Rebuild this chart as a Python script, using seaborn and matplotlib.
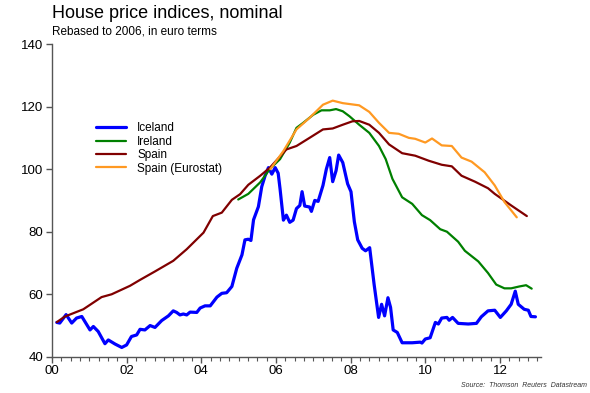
import matplotlib
matplotlib.use("Agg")
import matplotlib.pyplot as plt
from matplotlib.ticker import MultipleLocator
import seaborn as sns
import pandas as pd

# ---- data (years since 2000, index values) ----
iceland_x = [0.13, 0.21, 0.38, 0.53, 0.66, 0.80, 1.02, 1.11, 1.24, 1.42, 1.51, 1.69, 1.87, 2.00,
             2.13, 2.27, 2.36, 2.49, 2.63, 2.76, 2.94, 3.12, 3.25, 3.34, 3.43, 3.52, 3.61, 3.70,
             3.88, 3.97, 4.10, 4.24, 4.42, 4.55, 4.68, 4.82, 4.95, 5.09, 5.17, 5.26, 5.33, 5.40,
             5.53, 5.62, 5.71, 5.80, 5.89, 5.98, 6.06, 6.11, 6.20, 6.28, 6.37, 6.46, 6.55, 6.64,
             6.70, 6.77, 6.90, 6.95, 7.04, 7.13, 7.26, 7.35, 7.44, 7.52, 7.61, 7.68, 7.79, 7.92,
             8.01, 8.10, 8.19, 8.31, 8.40, 8.51, 8.63, 8.75, 8.83, 8.91, 9.00, 9.07, 9.14, 9.25,
             9.38, 9.65, 9.87, 9.91, 10.00, 10.13, 10.27, 10.35, 10.44, 10.58, 10.64, 10.73, 10.88,
             11.15, 11.37, 11.50, 11.68, 11.86, 12.01, 12.17, 12.30, 12.41, 12.49, 12.65, 12.76,
             12.83, 12.95]
iceland_y = [51.0, 50.8, 53.5, 50.8, 52.4, 52.9, 48.6, 49.7, 48.1, 44.2, 45.4, 44.1, 43.0, 43.8,
             46.5, 47.0, 48.8, 48.6, 50.0, 49.4, 51.6, 53.1, 54.7, 54.2, 53.4, 53.7, 53.4, 54.3,
             54.2, 55.6, 56.3, 56.3, 59.1, 60.3, 60.5, 62.5, 68.3, 72.6, 77.4, 77.6, 77.2, 83.8,
             88.0, 94.4, 97.9, 100.5, 98.4, 100.5, 98.7, 93.7, 83.7, 85.3, 83.0, 83.7, 87.4, 88.4,
             92.8, 88.2, 87.9, 86.5, 90.0, 89.7, 94.8, 100.0, 103.7, 96.0, 99.5, 104.5, 102.1, 95.3,
             92.8, 83.2, 77.4, 74.7, 73.9, 74.9, 63.1, 52.6, 56.8, 53.1, 58.9, 55.8, 48.6, 47.8,
             44.5, 44.5, 44.7, 44.4, 45.7, 46.1, 51.0, 50.5, 52.4, 52.6, 51.7, 52.6, 50.7,
             50.5, 50.7, 52.8, 54.7, 54.9, 52.6, 54.7, 56.8, 61.0, 56.8, 55.2, 54.9,
             52.9, 52.8]

ireland_x = [4.99, 5.26, 5.58, 5.84, 6.11, 6.37, 6.55, 6.73, 7.00, 7.22, 7.44, 7.61, 7.79, 7.97,
             8.23, 8.50, 8.76, 8.94, 9.12, 9.38, 9.65, 9.91, 10.13, 10.40, 10.58, 10.88, 11.06,
             11.42, 11.68, 11.90, 12.12, 12.30, 12.52, 12.70, 12.85]
ireland_y = [90.3, 92.1, 95.8, 100.1, 103.2, 108.5, 113.2, 114.8, 117.4, 118.8, 118.8, 119.2, 118.5,
             116.9, 114.2, 111.6, 107.4, 103.2, 96.9, 91.0, 88.9, 85.3, 83.7, 80.8, 80.0, 76.8,
             73.9, 70.5, 66.8, 63.1, 61.9, 61.9, 62.5, 62.9, 61.8]

spain_x = [0.13, 0.35, 0.84, 1.33, 1.60, 2.09, 2.36, 2.76, 3.25, 3.61, 4.06, 4.31, 4.55, 4.82,
           5.04, 5.26, 5.58, 5.84, 6.28, 6.55, 6.90, 7.26, 7.52, 7.79, 8.05, 8.23, 8.50, 8.76,
           9.03, 9.38, 9.73, 10.09, 10.44, 10.71, 10.97, 11.33, 11.68, 11.86, 12.30, 12.72]
spain_y = [51.1, 52.9, 55.2, 59.1, 60.0, 62.7, 64.6, 67.3, 70.7, 74.4, 79.7, 85.0, 86.1, 90.2,
           92.0, 95.0, 97.9, 100.5, 106.3, 107.4, 110.0, 112.7, 113.0, 114.2, 115.3, 115.4, 114.2,
           111.6, 107.9, 105.1, 104.3, 102.7, 101.4, 100.9, 97.9, 96.0, 93.9, 92.1, 88.4, 85.0]

eurostat_x = [5.85, 6.20, 6.55, 6.90, 7.26, 7.52, 7.79, 8.23, 8.50, 8.76, 9.03, 9.29, 9.56, 9.73,
              10.00, 10.18, 10.44, 10.71, 10.97, 11.24, 11.59, 11.86, 12.12, 12.45]
eurostat_y = [100.0, 105.8, 112.7, 116.4, 120.6, 121.9, 121.1, 120.4, 118.3, 114.8, 111.6, 111.3,
              110.0, 109.7, 108.5, 109.8, 107.6, 107.4, 103.7, 102.4, 99.0, 94.8, 89.5, 84.6]

series_names = ["Iceland", "Ireland", "Spain", "Spain (Eurostat)"]
series_colors = ["#0000FF", "#008000", "#800000", "#FF9922"]
series_widths = [2.3, 1.6, 1.6, 1.6]
x_tick_labels = ["00", "02", "04", "06", "08", "10", "12"]
y_ticks = [40, 60, 80, 100, 120, 140]

frames = []
for name, xs, ys in zip(series_names,
                        [iceland_x, ireland_x, spain_x, eurostat_x],
                        [iceland_y, ireland_y, spain_y, eurostat_y]):
    frames.append(pd.DataFrame({"year": xs, "value": ys, "series": name}))
df = pd.concat(frames, ignore_index=True)

sns.set_theme(style="white")
plt.rcParams["font.family"] = ["Liberation Sans", "DejaVu Sans"]
plt.rcParams["text.color"] = "black"

fig = plt.figure(figsize=(5.9, 3.93), dpi=100)
ax = fig.add_axes([0.088, 0.092, 0.829, 0.796])

for name, col, lw in zip(series_names, series_colors, series_widths):
    sns.lineplot(data=df[df["series"] == name], x="year", y="value", color=col,
                 linewidth=lw, label=name, ax=ax, estimator=None, sort=False)

ax.set_xlim(0, 13.1)
ax.set_ylim(40, 140)
ax.set_xticks([0, 2, 4, 6, 8, 10, 12])
ax.set_xticklabels(x_tick_labels)
ax.xaxis.set_minor_locator(MultipleLocator(0.25))
ax.set_yticks(y_ticks)
ax.set_xlabel("")
ax.set_ylabel("")
for s in ["top", "right"]:
    ax.spines[s].set_visible(False)
for s in ["left", "bottom"]:
    ax.spines[s].set_color("#555555")
    ax.spines[s].set_linewidth(1.0)
ax.tick_params(axis="both", which="major", direction="out", length=4, width=1,
               color="#555555", labelsize=9.5, labelcolor="black", pad=2,
               bottom=True, left=True)
ax.tick_params(axis="x", which="minor", direction="out", length=3, width=0.8,
               color="#555555", bottom=True)

leg = ax.legend(loc="upper left", bbox_to_anchor=(0.08, 0.765), frameon=False,
                fontsize=8.5, handlelength=2.6, handletextpad=0.9, labelspacing=0.12,
                borderaxespad=0)
for t in leg.get_texts():
    t.set_color("black")

fig.text(0.088, 0.965, "House price indices, nominal", fontsize=13, ha="left", va="center",
         color="black")
fig.text(0.088, 0.921, "Rebased to 2006, in euro terms", fontsize=8.5, ha="left", va="center",
         color="black")
fig.text(0.995, 0.02, "Source:  Thomson  Reuters  Datastream", fontsize=5, style="italic",
         ha="right", va="center", color="#333333")

fig.savefig("out.png", dpi=100)
